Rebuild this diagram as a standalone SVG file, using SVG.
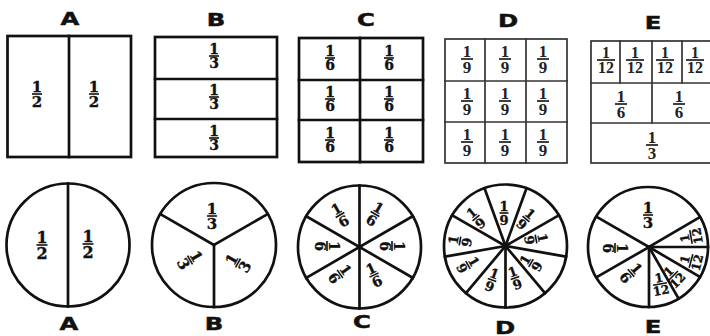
<svg xmlns="http://www.w3.org/2000/svg" width="710" height="336" viewBox="0 0 710 336">
<style>
.bg{fill:#fff}
.ln{fill:none;stroke:#111;stroke-width:2.7;stroke-linecap:square}
.lt{fill:none;stroke:#333;stroke-width:1.7;stroke-linecap:square}
.fr text{font-family:"DejaVu Serif",serif;font-weight:bold;text-anchor:middle;fill:#111;stroke:#111;stroke-width:0.35}
.fl text{font-family:"Liberation Serif",serif;font-weight:bold;text-anchor:middle;fill:#222}
.fr line,.fl line{stroke:#111;stroke-width:1.6}
.lab{font-family:"DejaVu Sans",sans-serif;font-weight:bold;font-size:18px;text-anchor:middle;fill:#111;stroke:#111;stroke-width:0.5}
</style>
<rect class="bg" x="0" y="0" width="710" height="336"/>

<!-- top squares -->
<g id="sqA">
  <text class="lab" transform="translate(70,25) scale(1.35,1)">A</text>
  <rect class="ln" x="7.5" y="36" width="123.5" height="121"/>
  <line class="ln" x1="69" y1="36" x2="69" y2="157"/>
  <g class="fr" font-size="15" transform="translate(37,94)"><text y="-2">1</text><line x1="-5" x2="5" y1="0" y2="0"/><text y="13">2</text></g>
  <g class="fr" font-size="15" transform="translate(94,94)"><text y="-2">1</text><line x1="-5" x2="5" y1="0" y2="0"/><text y="13">2</text></g>
</g>

<g id="sqB">
  <text class="lab" transform="translate(216,26) scale(1.35,1)">B</text>
  <rect class="ln" x="155" y="37" width="122" height="120"/>
  <line class="ln" x1="155" y1="79" x2="277" y2="79"/>
  <line class="ln" x1="155" y1="119" x2="277" y2="119"/>
  <g class="fr" font-size="14" transform="translate(214,56)"><text y="-2">1</text><line x1="-5" x2="5" y1="0" y2="0"/><text y="12.2">3</text></g>
  <g class="fr" font-size="14" transform="translate(214,97)"><text y="-2">1</text><line x1="-5" x2="5" y1="0" y2="0"/><text y="12.2">3</text></g>
  <g class="fr" font-size="14" transform="translate(214,138)"><text y="-2">1</text><line x1="-5" x2="5" y1="0" y2="0"/><text y="12.2">3</text></g>
</g>

<g id="sqC">
  <text class="lab" transform="translate(366,26) scale(1.35,1)">C</text>
  <rect class="ln" x="299" y="38" width="124" height="124"/>
  <line class="ln" x1="360" y1="38" x2="360" y2="162"/>
  <line class="ln" x1="299" y1="80" x2="423" y2="80"/>
  <line class="ln" x1="299" y1="120" x2="423" y2="120"/>
  <g class="fr" font-size="14" transform="translate(330,58)"><text y="-2">1</text><line x1="-5" x2="5" y1="0" y2="0"/><text y="12.2">6</text></g>
  <g class="fr" font-size="14" transform="translate(389,58)"><text y="-2">1</text><line x1="-5" x2="5" y1="0" y2="0"/><text y="12.2">6</text></g>
  <g class="fr" font-size="14" transform="translate(330,99)"><text y="-2">1</text><line x1="-5" x2="5" y1="0" y2="0"/><text y="12.2">6</text></g>
  <g class="fr" font-size="14" transform="translate(389,99)"><text y="-2">1</text><line x1="-5" x2="5" y1="0" y2="0"/><text y="12.2">6</text></g>
  <g class="fr" font-size="14" transform="translate(330,140)"><text y="-2">1</text><line x1="-5" x2="5" y1="0" y2="0"/><text y="12.2">6</text></g>
  <g class="fr" font-size="14" transform="translate(389,140)"><text y="-2">1</text><line x1="-5" x2="5" y1="0" y2="0"/><text y="12.2">6</text></g>
</g>

<g id="sqD">
  <text class="lab" transform="translate(508,27) scale(1.35,1)">D</text>
  <rect class="lt" x="445" y="39" width="122" height="124"/>
  <line class="lt" x1="485" y1="39" x2="485" y2="163"/>
  <line class="lt" x1="526" y1="39" x2="526" y2="163"/>
  <line class="lt" x1="445" y1="81" x2="567" y2="81"/>
  <line class="lt" x1="445" y1="122" x2="567" y2="122"/>
  <g class="fl" font-size="17" transform="translate(467,59)"><text y="-2">1</text><line x1="-6" x2="6" y1="0" y2="0"/><text y="13.5">9</text></g>
  <g class="fl" font-size="17" transform="translate(505,59)"><text y="-2">1</text><line x1="-6" x2="6" y1="0" y2="0"/><text y="13.5">9</text></g>
  <g class="fl" font-size="17" transform="translate(543,59)"><text y="-2">1</text><line x1="-6" x2="6" y1="0" y2="0"/><text y="13.5">9</text></g>
  <g class="fl" font-size="17" transform="translate(467,101)"><text y="-2">1</text><line x1="-6" x2="6" y1="0" y2="0"/><text y="13.5">9</text></g>
  <g class="fl" font-size="17" transform="translate(505,101)"><text y="-2">1</text><line x1="-6" x2="6" y1="0" y2="0"/><text y="13.5">9</text></g>
  <g class="fl" font-size="17" transform="translate(543,101)"><text y="-2">1</text><line x1="-6" x2="6" y1="0" y2="0"/><text y="13.5">9</text></g>
  <g class="fl" font-size="17" transform="translate(467,142)"><text y="-2">1</text><line x1="-6" x2="6" y1="0" y2="0"/><text y="13.5">9</text></g>
  <g class="fl" font-size="17" transform="translate(505,142)"><text y="-2">1</text><line x1="-6" x2="6" y1="0" y2="0"/><text y="13.5">9</text></g>
  <g class="fl" font-size="17" transform="translate(543,142)"><text y="-2">1</text><line x1="-6" x2="6" y1="0" y2="0"/><text y="13.5">9</text></g>
</g>

<g id="sqE">
  <text class="lab" transform="translate(653,29) scale(1.35,1)">E</text>
  <rect class="lt" x="591" y="41" width="122" height="122"/>
  <line class="lt" x1="620" y1="41" x2="620" y2="83"/>
  <line class="lt" x1="652" y1="41" x2="652" y2="123"/>
  <line class="lt" x1="682" y1="41" x2="682" y2="83"/>
  <line class="lt" x1="591" y1="83" x2="713" y2="83"/>
  <line class="lt" x1="591" y1="123" x2="713" y2="123"/>
  <g class="fl" font-size="16" transform="translate(606,60)"><text y="-2">1</text><line x1="-9" x2="9" y1="0" y2="0"/><text y="12.8">12</text></g>
  <g class="fl" font-size="16" transform="translate(635,60)"><text y="-2">1</text><line x1="-9" x2="9" y1="0" y2="0"/><text y="12.8">12</text></g>
  <g class="fl" font-size="16" transform="translate(665,60)"><text y="-2">1</text><line x1="-9" x2="9" y1="0" y2="0"/><text y="12.8">12</text></g>
  <g class="fl" font-size="16" transform="translate(695,60)"><text y="-2">1</text><line x1="-9" x2="9" y1="0" y2="0"/><text y="12.8">12</text></g>
  <g class="fl" font-size="17" transform="translate(621,104)"><text y="-2">1</text><line x1="-6" x2="6" y1="0" y2="0"/><text y="13.5">6</text></g>
  <g class="fl" font-size="17" transform="translate(679,104)"><text y="-2">1</text><line x1="-6" x2="6" y1="0" y2="0"/><text y="13.5">6</text></g>
  <g class="fl" font-size="17" transform="translate(652,145)"><text y="-2">1</text><line x1="-6" x2="6" y1="0" y2="0"/><text y="13.5">3</text></g>
</g>

<!-- bottom circles -->
<g id="cirA">
  <circle class="ln" cx="68" cy="245" r="61.5"/>
  <line class="ln" x1="68" y1="183.5" x2="68" y2="306.5"/>
  <g class="fr" font-size="16" transform="translate(42,245)"><text y="-2">1</text><line x1="-5.5" x2="5.5" y1="0" y2="0"/><text y="13.7">2</text></g>
  <g class="fr" font-size="16" transform="translate(88,244)"><text y="-2">1</text><line x1="-5.5" x2="5.5" y1="0" y2="0"/><text y="13.7">2</text></g>
  <text class="lab" transform="translate(69,330) scale(1.35,1)">A</text>
</g>

<g id="cirB">
  <circle class="ln" cx="214" cy="245" r="62"/>
  <line class="ln" x1="214" y1="245" x2="214" y2="307"/>
  <line class="ln" x1="214" y1="245" x2="160.3" y2="214"/>
  <line class="ln" x1="214" y1="245" x2="267.7" y2="214"/>
  <g class="fr" font-size="15" transform="translate(212,216)"><text y="-2">1</text><line x1="-5" x2="5" y1="0" y2="0"/><text y="13">3</text></g>
  <g class="fr" font-size="15" transform="translate(190,260) rotate(60)"><text y="-2">1</text><line x1="-5" x2="5" y1="0" y2="0"/><text y="13">3</text></g>
  <g class="fr" font-size="15" transform="translate(238,263) rotate(-60)"><text y="-2">1</text><line x1="-5" x2="5" y1="0" y2="0"/><text y="13">3</text></g>
  <text class="lab" transform="translate(214,330) scale(1.35,1)">B</text>
</g>

<g id="cirC">
  <circle class="ln" cx="359.5" cy="247" r="61.5"/>
  <line class="ln" x1="359.5" y1="185.5" x2="359.5" y2="308.5"/>
  <line class="ln" x1="306.2" y1="216.2" x2="412.8" y2="277.8"/>
  <line class="ln" x1="306.2" y1="277.8" x2="412.8" y2="216.2"/>
  <g class="fr" font-size="14" transform="translate(340,215) rotate(-30)"><text y="-2">1</text><line x1="-5" x2="5" y1="0" y2="0"/><text y="12.2">6</text></g>
  <g class="fr" font-size="14" transform="translate(375,214) rotate(30)"><text y="-2">1</text><line x1="-5" x2="5" y1="0" y2="0"/><text y="12.2">6</text></g>
  <g class="fr" font-size="14" transform="translate(327,246) rotate(90)"><text y="-2">1</text><line x1="-5" x2="5" y1="0" y2="0"/><text y="12.2">6</text></g>
  <g class="fr" font-size="14" transform="translate(392,246) rotate(90)"><text y="-2">1</text><line x1="-5" x2="5" y1="0" y2="0"/><text y="12.2">6</text></g>
  <g class="fr" font-size="14" transform="translate(340,274) rotate(55)"><text y="-2">1</text><line x1="-5" x2="5" y1="0" y2="0"/><text y="12.2">6</text></g>
  <g class="fr" font-size="14" transform="translate(374,275) rotate(-25)"><text y="-2">1</text><line x1="-5" x2="5" y1="0" y2="0"/><text y="12.2">6</text></g>
  <text class="lab" transform="translate(362,328) scale(1.35,1)">C</text>
</g>

<g id="cirD">
  <circle class="ln" cx="505.5" cy="246" r="61.5"/>
  <g class="ln">
    <line x1="505.5" y1="246" x2="505.5" y2="307.5"/>
    <line x1="505.5" y1="246" x2="466" y2="293.1"/>
    <line x1="505.5" y1="246" x2="444.9" y2="256.7"/>
    <line x1="505.5" y1="246" x2="452.2" y2="215.3"/>
    <line x1="505.5" y1="246" x2="484.5" y2="188.2"/>
    <line x1="505.5" y1="246" x2="526.5" y2="188.2"/>
    <line x1="505.5" y1="246" x2="558.8" y2="215.3"/>
    <line x1="505.5" y1="246" x2="566.1" y2="256.7"/>
    <line x1="505.5" y1="246" x2="545" y2="293.1"/>
  </g>
  <circle cx="505.5" cy="246" r="2.5" fill="#111"/>
  <g class="fr" font-size="13" transform="translate(504,213)"><text y="-2">1</text><line x1="-4.5" x2="4.5" y1="0" y2="0"/><text y="11.5">9</text></g>
  <g class="fr" font-size="13" transform="translate(526,219) rotate(40)"><text y="-2">1</text><line x1="-4.5" x2="4.5" y1="0" y2="0"/><text y="11.5">9</text></g>
  <g class="fr" font-size="13" transform="translate(536,239) rotate(80)"><text y="-2">1</text><line x1="-4.5" x2="4.5" y1="0" y2="0"/><text y="11.5">9</text></g>
  <g class="fr" font-size="13" transform="translate(531,263) rotate(-60)"><text y="-2">1</text><line x1="-4.5" x2="4.5" y1="0" y2="0"/><text y="11.5">9</text></g>
  <g class="fr" font-size="13" transform="translate(515,278) rotate(-20)"><text y="-2">1</text><line x1="-4.5" x2="4.5" y1="0" y2="0"/><text y="11.5">9</text></g>
  <g class="fr" font-size="13" transform="translate(492,280) rotate(20)"><text y="-2">1</text><line x1="-4.5" x2="4.5" y1="0" y2="0"/><text y="11.5">9</text></g>
  <g class="fr" font-size="13" transform="translate(468,265) rotate(60)"><text y="-2">1</text><line x1="-4.5" x2="4.5" y1="0" y2="0"/><text y="11.5">9</text></g>
  <g class="fr" font-size="13" transform="translate(460,241) rotate(-80)"><text y="-2">1</text><line x1="-4.5" x2="4.5" y1="0" y2="0"/><text y="11.5">9</text></g>
  <g class="fr" font-size="13" transform="translate(476,218) rotate(-40)"><text y="-2">1</text><line x1="-4.5" x2="4.5" y1="0" y2="0"/><text y="11.5">9</text></g>
  <text class="lab" transform="translate(505,333.5) scale(1.35,1)">D</text>
</g>

<g id="cirE">
  <circle class="ln" cx="648" cy="247" r="60"/>
  <g class="ln">
    <line x1="649" y1="247" x2="597" y2="217"/>
    <line x1="649" y1="247" x2="700" y2="217"/>
    <line x1="649" y1="247" x2="597" y2="277"/>
    <line x1="649" y1="247" x2="649" y2="307"/>
    <line x1="649" y1="247" x2="708" y2="247"/>
    <line x1="649" y1="247" x2="700" y2="277"/>
    <line x1="649" y1="247" x2="678.5" y2="298.5"/>
  </g>
  <g class="fr" font-size="15" transform="translate(648,215)"><text y="-2">1</text><line x1="-5" x2="5" y1="0" y2="0"/><text y="13">3</text></g>
  <g class="fr" font-size="14" transform="translate(615,248) rotate(90)"><text y="-2">1</text><line x1="-5" x2="5" y1="0" y2="0"/><text y="12.2">6</text></g>
  <g class="fr" font-size="14" transform="translate(631,273) rotate(50)"><text y="-2">1</text><line x1="-5" x2="5" y1="0" y2="0"/><text y="12.2">6</text></g>
  <g class="fr" font-size="12" transform="translate(660,284) rotate(-10)"><text y="-2">1</text><line x1="-7" x2="7" y1="0" y2="0"/><text y="10.7">12</text></g>
  <g class="fr" font-size="12" transform="translate(673,276) rotate(-45)"><text y="-2">1</text><line x1="-7" x2="7" y1="0" y2="0"/><text y="10.7">12</text></g>
  <g class="fr" font-size="12" transform="translate(691,261) rotate(-75)"><text y="-2">1</text><line x1="-7" x2="7" y1="0" y2="0"/><text y="10.7">12</text></g>
  <g class="fr" font-size="12" transform="translate(691,237) rotate(-100)"><text y="-2">1</text><line x1="-7" x2="7" y1="0" y2="0"/><text y="10.7">12</text></g>
  <text class="lab" transform="translate(653,333) scale(1.35,1)">E</text>
</g>
</svg>
